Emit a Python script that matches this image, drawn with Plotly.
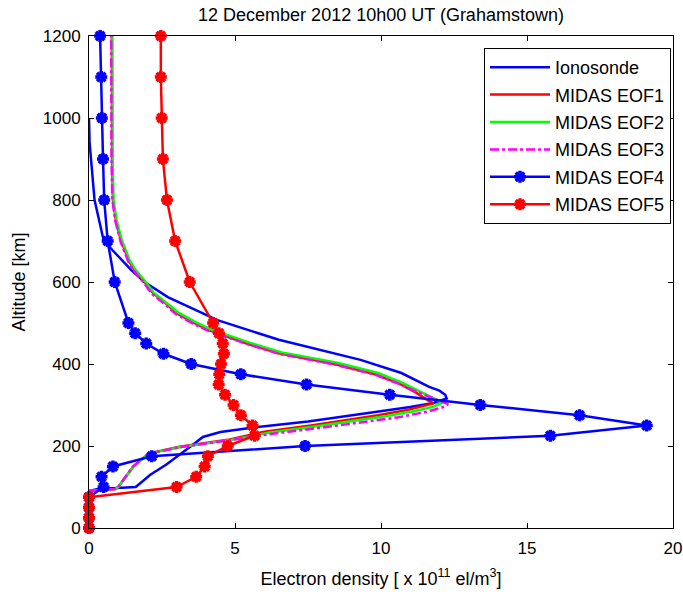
import plotly.graph_objects as go

# ---------------- data (altitude km, electron density x1e11 el/m^3) ----------------
iono_alt = [90, 95, 100, 130, 155, 183, 200, 222, 234, 246, 260, 280, 295, 305, 316,
            325, 335, 344, 378, 410, 459, 507, 563, 600, 629, 678, 702, 800, 866, 940, 1000]
iono_ne = [0.0, 0.3, 1.6, 2.1, 2.65, 3.2, 3.5, 3.9, 4.5, 5.7, 7.5, 9.5, 11.0, 11.8, 12.25,
           12.2, 12.0, 11.65, 10.7, 9.3, 6.5, 4.4, 2.7, 1.9, 1.45, 0.8, 0.5, 0.19, 0.1, 0.02, 0.0]

eof1_alt = [90, 95, 100, 120, 150, 182, 198, 215, 235, 250, 263, 275, 288, 296, 304,
            312, 330, 353, 375, 400, 426, 450, 483, 500, 524, 550, 572, 600, 629, 650,
            700, 750, 800, 900, 1000, 1100, 1200]
eof1_ne = [0.0, 0.9, 1.0, 1.2, 1.52, 2.05, 3.1, 4.75, 6.0, 7.6, 8.8, 9.9, 10.9, 11.4, 11.8,
           11.6, 11.2, 10.6, 9.8, 8.4, 6.5, 5.4, 4.1, 3.6, 3.0, 2.6, 2.2, 1.9, 1.56, 1.38,
           1.1, 0.92, 0.82, 0.79, 0.78, 0.78, 0.78]

eof2_alt = [90, 95, 100, 120, 150, 182, 198, 215, 233, 248, 261, 273, 286, 296, 306,
            313, 330, 355, 378, 403, 428, 452, 485, 502, 526, 552, 574, 602, 631, 652,
            702, 752, 800, 900, 1000, 1100, 1200]
eof2_ne = [0.0, 0.9, 1.0, 1.2, 1.52, 2.05, 3.2, 4.9, 6.2, 7.8, 9.0, 10.2, 11.2, 11.8, 12.1,
           11.9, 11.4, 10.7, 9.9, 8.5, 6.6, 5.5, 4.15, 3.65, 3.05, 2.62, 2.22, 1.92, 1.58, 1.4,
           1.12, 0.94, 0.84, 0.81, 0.8, 0.8, 0.8]

eof3_alt = [90, 95, 100, 120, 150, 182, 198, 215, 230, 245, 258, 270, 284, 294, 302,
            310, 330, 352, 374, 399, 425, 449, 482, 499, 523, 549, 571, 599, 628, 649,
            699, 749, 800, 900, 1000, 1100, 1200]
eof3_ne = [0.0, 0.9, 1.0, 1.2, 1.5, 2.05, 3.2, 4.9, 6.3, 8.0, 9.3, 10.6, 11.6, 12.1, 12.3,
           12.0, 11.3, 10.6, 9.8, 8.4, 6.5, 5.4, 4.05, 3.55, 2.95, 2.55, 2.15, 1.87, 1.53, 1.35,
           1.08, 0.9, 0.8, 0.77, 0.76, 0.76, 0.76]

grid_alt = [0, 25, 50, 75, 100, 125, 150, 175, 200, 225, 250, 275, 300, 325, 350, 375,
            400, 425, 450, 475, 500, 600, 700, 800, 900, 1000, 1100, 1200]
eof4_ne = [0.0, 0.0, 0.0, 0.0, 0.5, 0.43, 0.82, 2.15, 7.4, 15.8, 19.1, 16.8, 13.4, 10.3,
           7.45, 5.2, 3.5, 2.55, 1.96, 1.58, 1.35, 0.88, 0.64, 0.52, 0.48, 0.44, 0.42, 0.38]
eof5_ne = [0.0, 0.0, 0.0, 0.0, 3.0, 3.67, 3.96, 4.07, 4.75, 5.67, 5.6, 5.2, 4.95, 4.66,
           4.44, 4.46, 4.52, 4.62, 4.58, 4.45, 4.25, 3.45, 2.95, 2.67, 2.53, 2.49, 2.46, 2.46]

x_ticks = [0, 5, 10, 15, 20]
y_ticks = [0, 200, 400, 600, 800, 1000, 1200]

BLUE = "rgb(0,0,255)"
RED = "rgb(255,0,0)"
GREEN = "rgb(0,255,0)"
MAGENTA = "rgb(255,0,255)"
FONT = "Liberation Sans, Arial, sans-serif"
LW = 2.5

fig = go.Figure()
fig.add_trace(go.Scatter(x=iono_ne, y=iono_alt, mode="lines", name="Ionosonde",
                         line=dict(color=BLUE, width=LW), legendgroup="a"))
fig.add_trace(go.Scatter(x=eof1_ne, y=eof1_alt, mode="lines", name="MIDAS EOF1",
                         line=dict(color=RED, width=LW), legendgroup="b"))
fig.add_trace(go.Scatter(x=eof2_ne, y=eof2_alt, mode="lines", name="MIDAS EOF2",
                         line=dict(color=GREEN, width=LW), legendgroup="c"))
fig.add_trace(go.Scatter(x=eof3_ne, y=eof3_alt, mode="lines", name="MIDAS EOF3",
                         line=dict(color=MAGENTA, width=LW, dash="dashdot"), legendgroup="d"))
fig.add_trace(go.Scatter(x=eof4_ne, y=grid_alt, mode="lines+markers", name="MIDAS EOF4",
                         line=dict(color=BLUE, width=LW), cliponaxis=False,
                         marker=dict(symbol="asterisk-open", size=10, color=BLUE,
                                     line=dict(color=BLUE, width=3.5)), legendgroup="e"))
fig.add_trace(go.Scatter(x=eof5_ne, y=grid_alt, mode="lines+markers", name="MIDAS EOF5",
                         line=dict(color=RED, width=LW), cliponaxis=False,
                         marker=dict(symbol="asterisk-open", size=10, color=RED,
                                     line=dict(color=RED, width=3.5)), legendgroup="f"))

axis_common = dict(showline=True, linecolor="black", linewidth=1, mirror="ticks",
                   ticks="inside", ticklen=5, tickcolor="black", showgrid=False,
                   zeroline=False, automargin=False,
                   tickfont=dict(family=FONT, size=17, color="black"))

fig.update_layout(
    width=683, height=599,
    margin=dict(l=89, r=10, t=36, b=71, autoexpand=False),
    paper_bgcolor="white", plot_bgcolor="white",
    font=dict(family=FONT, size=17, color="black"),
    title=dict(text="12 December 2012 10h00 UT (Grahamstown)", x=0.5, xref="paper",
               y=1 - 15 / 599, yref="container", yanchor="middle",
               font=dict(family=FONT, size=18, color="black")),
    xaxis=dict(range=[0, 20], tickvals=x_ticks, ticklabelstandoff=5,
               title=dict(text="Electron density [ x 10<sup>11</sup> el/m<sup>3</sup>]",
                          standoff=14, font=dict(family=FONT, size=18)),
               **axis_common),
    yaxis=dict(range=[0, 1200], tickvals=y_ticks, ticklabelstandoff=4,
               title=dict(text="Altitude [km]", standoff=12, font=dict(family=FONT, size=18)),
               **axis_common),
    legend=dict(x=0.9966, y=0.9756, xanchor="right", yanchor="top",
                bordercolor="black", borderwidth=1, bgcolor="white",
                font=dict(family=FONT, size=18, color="black"),
                traceorder="grouped", tracegroupgap=1, itemwidth=60),
    showlegend=True,
)

fig.write_html("out.html")
